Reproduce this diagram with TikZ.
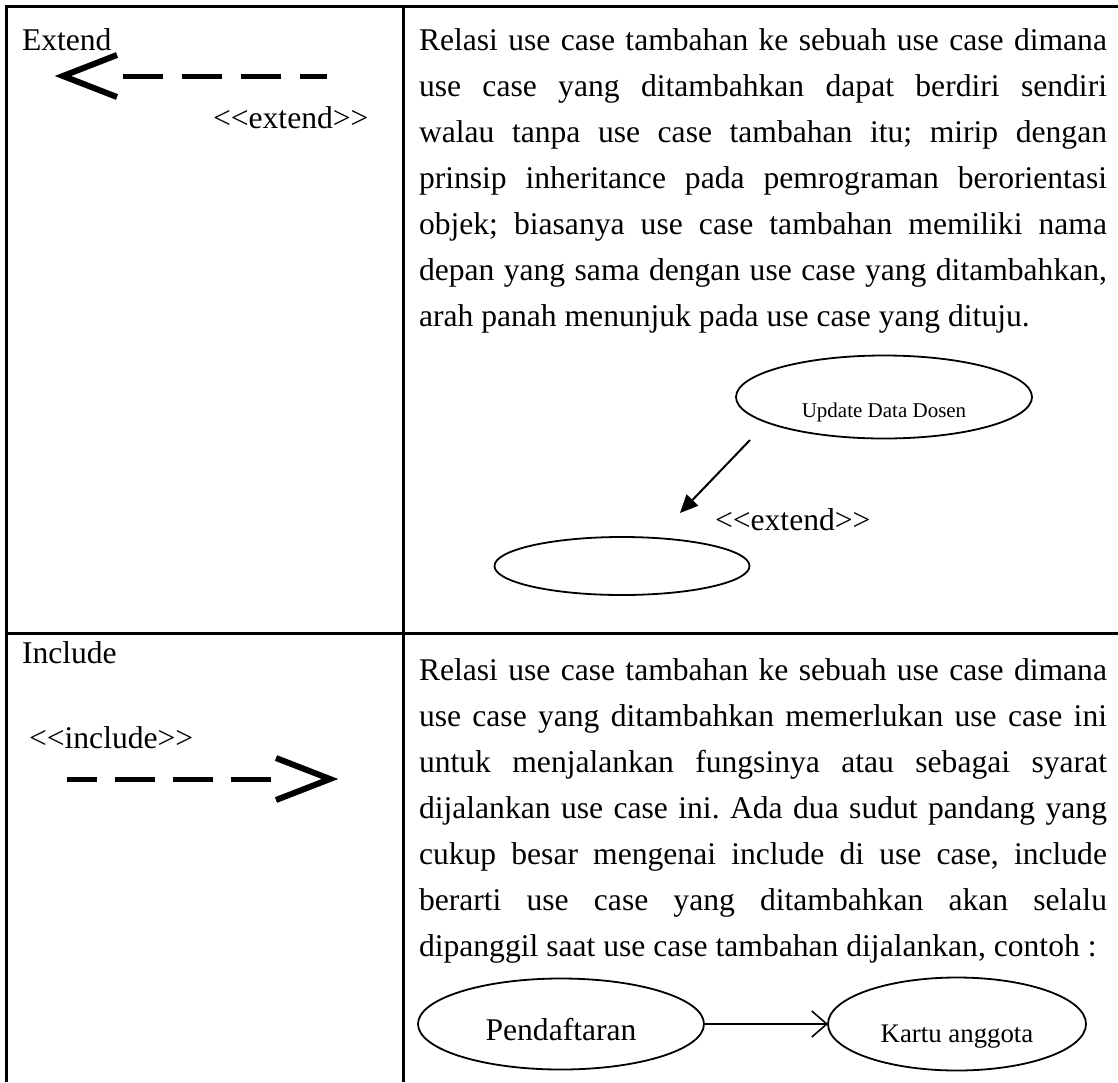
\documentclass[tikz,border=0pt]{standalone}
\usepackage{fontspec}
\setmainfont{Liberation Serif}[Ligatures=TeXOff]
\usepackage{tikz}
\usetikzlibrary{positioning,shapes.geometric,arrows.meta}
\tolerance=10000
\hyphenpenalty=10000

\begin{document}
\begin{tikzpicture}[x=0.5pt,y=-0.5pt,
  every node/.style={inner sep=0pt,outer sep=0pt},
  grid/.style={line width=1.5pt},
  maintext/.style={font=\fontsize{15.8}{23}\selectfont\frenchspacing},
  celltext/.style={maintext,anchor=base west},
  desc/.style={maintext,anchor=base west,text width=344pt,align=justify},
  usecase/.style={draw,ellipse,line width=0.9pt,text depth=0pt},
  bigdash/.style={line width=2.5pt,dash pattern=on 20pt off 9.5pt},
  vhead/.style={line width=3pt},
  rel/.style={line width=1pt}
]
\useasboundingbox (0,0) rectangle (1118,1082);
\draw[grid] (1118,6) -- (6,6) -- (6,1082);
\draw[grid] (403,6) -- (403,1082);
\draw[grid] (6,633) -- (1118,633);

\node[celltext] (extName) at (22,50) {Extend};
\coordinate (extTip) at (63,76);
\coordinate (extStart) at (123,76);
\coordinate (extEnd) at (327,76);
\draw[bigdash] (extStart) -- (extEnd);
\draw[vhead] (extTip) ++(54,-21) -- (extTip) -- ++(54,21);
\node[celltext] (extTag) at (213,128) {<<extend>>};

\node[desc] (extDesc) at (419,50) {Relasi use case tambahan ke sebuah use case dimana\linebreak
use case yang ditambahkan dapat berdiri sendiri\linebreak
walau tanpa use case tambahan itu; mirip dengan\linebreak
prinsip inheritance pada pemrograman berorientasi\linebreak
objek; biasanya use case tambahan memiliki nama\linebreak
depan yang sama dengan use case yang ditambahkan,\linebreak
arah panah menunjuk pada use case yang dituju.};

\node[usecase,minimum width=148pt,minimum height=41.5pt,text height=20pt,
  font=\fontsize{10.5}{12}\selectfont] (upd) at (884,397) {Update Data Dosen};
\node[usecase,minimum width=127.5pt,minimum height=29pt] (base) at (622,566) {};
\coordinate (relFrom) at (750,440);
\coordinate (relTo) at (680,513);
\draw[rel,-{Triangle[length=9pt,width=8pt]}] (relFrom) -- (relTo);
\node[celltext] (relTag) at (715,530) {<<extend>>};

\node[celltext] (incName) at (22,663) {Include};
\node[celltext] (incTag) at (29,748) {<<include>>};
\coordinate (incStart) at (67,779);
\coordinate (incEnd) at (272,779);
\coordinate (incTip) at (330,779);
\draw[bigdash,dash pattern=on 20pt off 9pt,dash phase=5pt] (incStart) -- (incEnd);
\draw[vhead] (incTip) ++(-54,-21) -- (incTip) -- ++(-54,21);

\node[desc] (incDesc) at (419,680) {Relasi use case tambahan ke sebuah use case dimana\linebreak
use case yang ditambahkan memerlukan use case ini\linebreak
untuk menjalankan fungsinya atau sebagai syarat\linebreak
dijalankan use case ini. Ada dua sudut pandang yang\linebreak
cukup besar mengenai include di use case, include\linebreak
berarti use case yang ditambahkan akan selalu\linebreak
dipanggil saat use case tambahan dijalankan, contoh :};

\node[usecase,maintext,minimum width=143pt,minimum height=45.5pt,text height=16pt] (pend) at (561,1024) {Pendaftaran};
\node[usecase,minimum width=129pt,minimum height=46.5pt,text height=18pt,
  font=\fontsize{13.4}{15}\selectfont,right=62pt of pend] (kartu) {Kartu anggota};
\draw[rel,line width=0.8pt,-{Straight Barb[length=7.5pt,width=13pt]}] (pend) -- (kartu);
\end{tikzpicture}
\end{document}
